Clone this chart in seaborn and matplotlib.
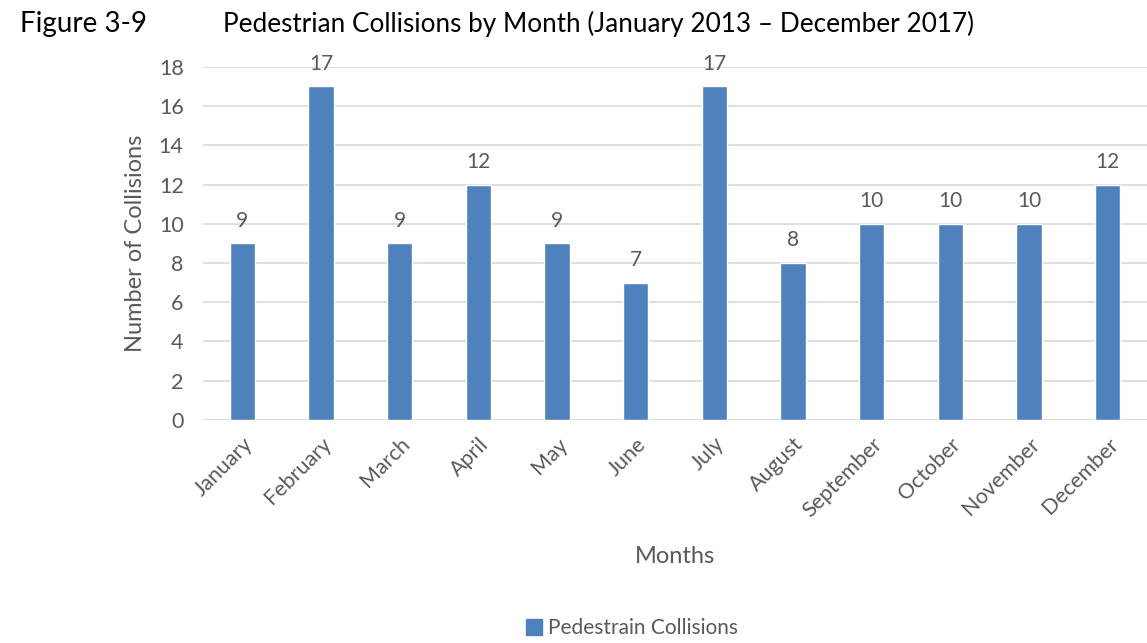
import matplotlib
matplotlib.use("Agg")
import matplotlib.pyplot as plt
import seaborn as sns
import pandas as pd

months = ["January", "February", "March", "April", "May", "June", "July",
          "August", "September", "October", "November", "December"]
collisions = [9, 17, 9, 12, 9, 7, 17, 8, 10, 10, 10, 12]
y_ticks = [0, 2, 4, 6, 8, 10, 12, 14, 16, 18]

sns.set_theme(style="white")
plt.rcParams["font.family"] = ["Lato", "DejaVu Sans"]

BAR = "#4F81BD"
GRAY = "#595959"
GRID = "#D9D9D9"

df = pd.DataFrame({"Month": months, "Collisions": collisions})

fig = plt.figure(figsize=(11.47, 6.43), dpi=100)
ax = fig.add_axes([0.177, 0.347, 0.823, 0.549])

sns.barplot(data=df, x="Month", y="Collisions", color=BAR, width=0.32,
            saturation=1, ax=ax, zorder=3)

ax.set_ylim(0, 18)
ax.set_yticks(y_ticks)
ax.set_xlim(-0.5, len(months) - 0.5)
ax.yaxis.grid(True, color=GRID, linewidth=1.2, zorder=0)
ax.set_axisbelow(True)
for s in ax.spines.values():
    s.set_visible(False)
ax.axhline(0, color=GRID, linewidth=1.5, zorder=2)

ax.tick_params(axis="y", length=0, labelsize=15.5, colors=GRAY, pad=14)
ax.tick_params(axis="x", length=0, labelsize=15.5, colors=GRAY, pad=10)
ax.set_xticks(range(len(months)))
ax.set_xticklabels(months, rotation=45, ha="right", rotation_mode="anchor")

for c in ax.containers:
    ax.bar_label(c, labels=[str(v) for v in collisions], padding=9,
                 fontsize=15, color=GRAY)

ax.set_ylabel("Number of Collisions", fontsize=17, color=GRAY, labelpad=9)
ax.set_xlabel("Months", fontsize=17, color=GRAY, labelpad=18)

fig.text(20 / 1147, 1 - 24 / 643, "Figure 3-9", fontsize=20, color="black",
         va="center", ha="left")
fig.text(223 / 1147, 1 - 24 / 643,
         "Pedestrian Collisions by Month (January 2013 \u2013 December 2017)",
         fontsize=18.8, color="black", va="center", ha="left")

handle = plt.Rectangle((0, 0), 1, 1, color=BAR)
fig.legend([handle], ["Pedestrain Collisions"], loc="center",
           bbox_to_anchor=(632 / 1147, 1 - 628 / 643), frameon=False,
           fontsize=15, labelcolor=GRAY, handlelength=0.8, handleheight=0.8,
           handletextpad=0.3)

fig.savefig("out.png", dpi=100)
